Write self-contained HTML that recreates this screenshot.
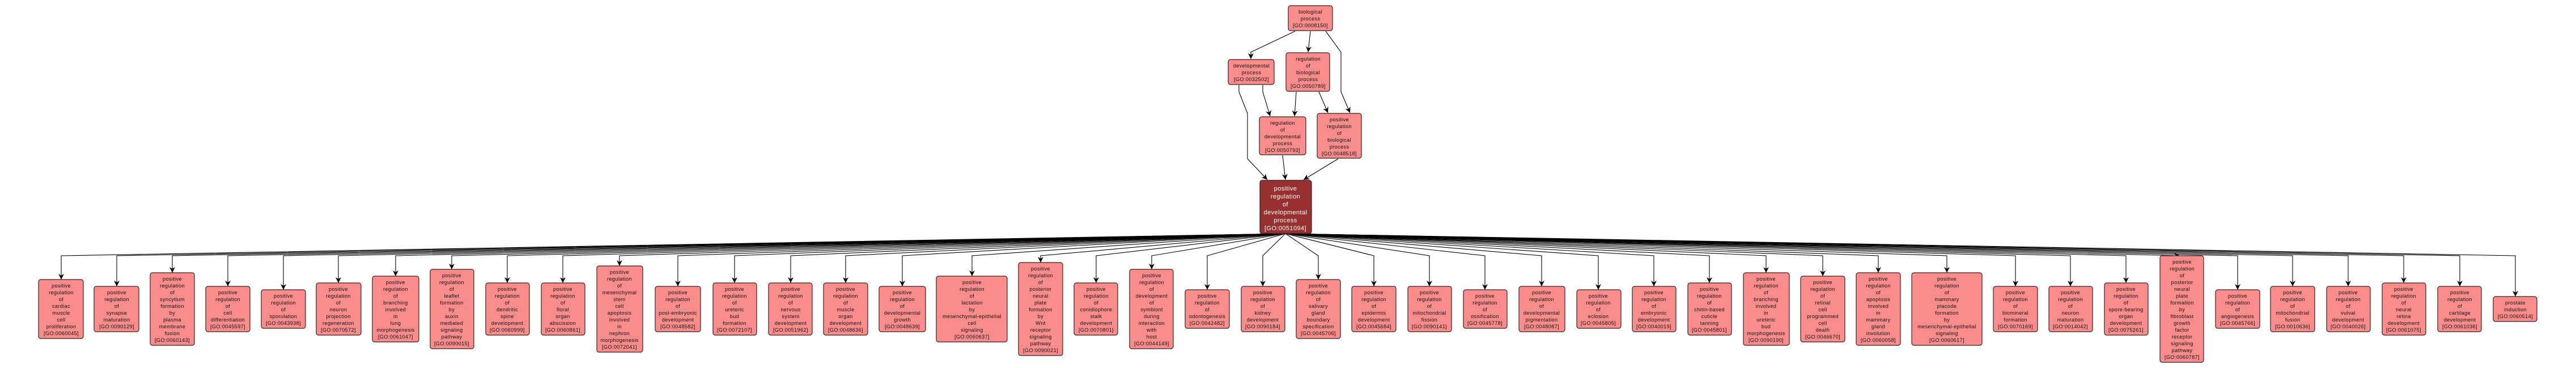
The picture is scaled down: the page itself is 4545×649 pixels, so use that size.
<!DOCTYPE html>
<html><head><meta charset="utf-8">
<style>
html,body{margin:0;padding:0;background:#fff;}
svg{display:block;}
.n{fill:#fa8c8c;stroke:#3a1e1e;stroke-width:1.2;}
.m{fill:#983030;stroke:#3a1e1e;stroke-width:1.2;}
text{font-family:"Liberation Sans",Arial,sans-serif;font-size:9.2px;letter-spacing:0.35px;fill:#111;text-anchor:middle;}
text.w{fill:#fff;font-size:11px;letter-spacing:0.4px;}
.e{fill:none;stroke:#000;stroke-width:1.1;}
</style></head>
<body>
<svg width="4545" height="649" viewBox="0 0 4545 649" xmlns="http://www.w3.org/2000/svg">
<defs>
<marker id="a" markerUnits="userSpaceOnUse" markerWidth="12" markerHeight="10" refX="10" refY="5" orient="auto">
<path d="M0,0 L10,5 L0,10 L3,5 z" fill="#000"/>
</marker>
</defs>

<path class="e" marker-end="url(#a)" d="M2285 55 L2207 92 L2207 104"/>
<path class="e" marker-end="url(#a)" d="M2312 55 L2308 92"/>
<path class="e" marker-end="url(#a)" d="M2339 55 L2366 92 L2366 162 L2382 199"/>
<path class="e" marker-end="url(#a)" d="M2186 150 L2186 162 L2201 200 L2201 280 L2220 300 L2236 317"/>
<path class="e" marker-end="url(#a)" d="M2228 150 L2228 162 L2241 205"/>
<path class="e" marker-end="url(#a)" d="M2287 162 L2284 205"/>
<path class="e" marker-end="url(#a)" d="M2327 162 L2343 199"/>
<path class="e" marker-end="url(#a)" d="M2263 274 L2268 317"/>
<path class="e" marker-end="url(#a)" d="M2361 280 L2300 317"/>

<rect class="n" x="2273" y="10" width="78" height="44" rx="4"/>
<text x="2312" y="24"><tspan x="2312">biological</tspan><tspan x="2312" dy="12">process</tspan><tspan x="2312" dy="12">[GO:0008150]</tspan></text>

<rect class="n" x="2167" y="105" width="81" height="44" rx="4"/>
<text x="2208" y="119"><tspan x="2208">developmental</tspan><tspan x="2208" dy="12">process</tspan><tspan x="2208" dy="12">[GO:0032502]</tspan></text>

<rect class="n" x="2269" y="93" width="77" height="68" rx="4"/>
<text x="2308" y="107"><tspan x="2308">regulation</tspan><tspan x="2308" dy="12">of</tspan><tspan x="2308" dy="12">biological</tspan><tspan x="2308" dy="12">process</tspan><tspan x="2308" dy="12">[GO:0050789]</tspan></text>

<rect class="n" x="2222" y="206" width="82" height="67" rx="4"/>
<text x="2263" y="220"><tspan x="2263">regulation</tspan><tspan x="2263" dy="12">of</tspan><tspan x="2263" dy="12">developmental</tspan><tspan x="2263" dy="12">process</tspan><tspan x="2263" dy="12">[GO:0050793]</tspan></text>

<rect class="n" x="2324" y="200" width="78" height="79" rx="4"/>
<text x="2363" y="214"><tspan x="2363">positive</tspan><tspan x="2363" dy="12">regulation</tspan><tspan x="2363" dy="12">of</tspan><tspan x="2363" dy="12">biological</tspan><tspan x="2363" dy="12">process</tspan><tspan x="2363" dy="12">[GO:0048518]</tspan></text>

<g>
<path class="e" marker-end="url(#a)" d="M2268 412 L108 451 L108 493"/>
<path class="e" marker-end="url(#a)" d="M2268 412 L206 451 L206 505"/>
<path class="e" marker-end="url(#a)" d="M2268 412 L304 451 L304 481"/>
<path class="e" marker-end="url(#a)" d="M2268 412 L402 451 L402 505"/>
<path class="e" marker-end="url(#a)" d="M2268 412 L500 451 L500 511"/>
<path class="e" marker-end="url(#a)" d="M2268 412 L597 451 L597 499"/>
<path class="e" marker-end="url(#a)" d="M2268 412 L698 451 L698 487"/>
<path class="e" marker-end="url(#a)" d="M2268 412 L797 451 L797 475"/>
<path class="e" marker-end="url(#a)" d="M2268 412 L895 451 L895 499"/>
<path class="e" marker-end="url(#a)" d="M2268 412 L993 451 L993 499"/>
<path class="e" marker-end="url(#a)" d="M2268 412 L1093 451 L1093 469"/>
<path class="e" marker-end="url(#a)" d="M2268 412 L1196 451 L1196 505"/>
<path class="e" marker-end="url(#a)" d="M2268 412 L1296 451 L1296 499"/>
<path class="e" marker-end="url(#a)" d="M2268 412 L1395 451 L1395 499"/>
<path class="e" marker-end="url(#a)" d="M2268 412 L1492 451 L1492 499"/>
<path class="e" marker-end="url(#a)" d="M2268 412 L1592 451 L1592 505"/>
<path class="e" marker-end="url(#a)" d="M2268 412 L1715 451 L1715 487"/>
<path class="e" marker-end="url(#a)" d="M2268 412 L1836 451 L1836 463"/>
<path class="e" marker-end="url(#a)" d="M2268 412 L1934 451 L1934 499"/>
<path class="e" marker-end="url(#a)" d="M2268 412 L2032 451 L2032 475"/>
<path class="e" marker-end="url(#a)" d="M2268 412 L2130 451 L2130 511"/>
<path class="e" marker-end="url(#a)" d="M2268 412 L2228 451 L2228 505"/>
<path class="e" marker-end="url(#a)" d="M2268 412 L2326 451 L2326 493"/>
<path class="e" marker-end="url(#a)" d="M2268 412 L2424 451 L2424 505"/>
<path class="e" marker-end="url(#a)" d="M2268 412 L2522 451 L2522 505"/>
<path class="e" marker-end="url(#a)" d="M2268 412 L2620 451 L2620 511"/>
<path class="e" marker-end="url(#a)" d="M2268 412 L2720 451 L2720 505"/>
<path class="e" marker-end="url(#a)" d="M2268 412 L2820 451 L2820 511"/>
<path class="e" marker-end="url(#a)" d="M2268 412 L2918 451 L2918 505"/>
<path class="e" marker-end="url(#a)" d="M2268 412 L3016 451 L3016 499"/>
<path class="e" marker-end="url(#a)" d="M2268 412 L3116 451 L3116 481"/>
<path class="e" marker-end="url(#a)" d="M2268 412 L3216 451 L3216 487"/>
<path class="e" marker-end="url(#a)" d="M2268 412 L3314 451 L3314 481"/>
<path class="e" marker-end="url(#a)" d="M2268 412 L3435 451 L3435 481"/>
<path class="e" marker-end="url(#a)" d="M2268 412 L3556 451 L3556 505"/>
<path class="e" marker-end="url(#a)" d="M2268 412 L3653 451 L3653 505"/>
<path class="e" marker-end="url(#a)" d="M2268 412 L3751 451 L3751 499"/>
<path class="e" marker-end="url(#a)" d="M2268 412 L3846 451"/>
<path class="e" marker-end="url(#a)" d="M2268 412 L3948 451 L3948 511"/>
<path class="e" marker-end="url(#a)" d="M2268 412 L4045 451 L4045 505"/>
<path class="e" marker-end="url(#a)" d="M2268 412 L4143 451 L4143 505"/>
<path class="e" marker-end="url(#a)" d="M2268 412 L4241 451 L4241 499"/>
<path class="e" marker-end="url(#a)" d="M2268 412 L4340 451 L4340 505"/>
<path class="e" marker-end="url(#a)" d="M2268 412 L4438 451 L4438 523"/>
</g>

<rect class="m" x="2223" y="318" width="91" height="94" rx="4"/>
<text class="w" x="2268" y="336"><tspan x="2268">positive</tspan><tspan x="2268" dy="14">regulation</tspan><tspan x="2268" dy="14">of</tspan><tspan x="2268" dy="14">developmental</tspan><tspan x="2268" dy="14">process</tspan><tspan x="2268" dy="14">[GO:0051094]</tspan></text>

<rect class="n" x="68" y="493" width="79" height="104" rx="4"/>
<text y="507"><tspan x="108">positive</tspan><tspan x="108" dy="12">regulation</tspan><tspan x="108" dy="12">of</tspan><tspan x="108" dy="12">cardiac</tspan><tspan x="108" dy="12">muscle</tspan><tspan x="108" dy="12">cell</tspan><tspan x="108" dy="12">proliferation</tspan><tspan x="108" dy="12">[GO:0060045]</tspan></text>

<rect class="n" x="166" y="505" width="79" height="80" rx="4"/>
<text y="519"><tspan x="206">positive</tspan><tspan x="206" dy="12">regulation</tspan><tspan x="206" dy="12">of</tspan><tspan x="206" dy="12">synapse</tspan><tspan x="206" dy="12">maturation</tspan><tspan x="206" dy="12">[GO:0090129]</tspan></text>

<rect class="n" x="265" y="481" width="78" height="128" rx="4"/>
<text y="495"><tspan x="304">positive</tspan><tspan x="304" dy="12">regulation</tspan><tspan x="304" dy="12">of</tspan><tspan x="304" dy="12">syncytium</tspan><tspan x="304" dy="12">formation</tspan><tspan x="304" dy="12">by</tspan><tspan x="304" dy="12">plasma</tspan><tspan x="304" dy="12">membrane</tspan><tspan x="304" dy="12">fusion</tspan><tspan x="304" dy="12">[GO:0060143]</tspan></text>

<rect class="n" x="363" y="505" width="78" height="80" rx="4"/>
<text y="519"><tspan x="402">positive</tspan><tspan x="402" dy="12">regulation</tspan><tspan x="402" dy="12">of</tspan><tspan x="402" dy="12">cell</tspan><tspan x="402" dy="12">differentiation</tspan><tspan x="402" dy="12">[GO:0045597]</tspan></text>

<rect class="n" x="461" y="511" width="78" height="68" rx="4"/>
<text y="525"><tspan x="500">positive</tspan><tspan x="500" dy="12">regulation</tspan><tspan x="500" dy="12">of</tspan><tspan x="500" dy="12">sporulation</tspan><tspan x="500" dy="12">[GO:0043938]</tspan></text>

<rect class="n" x="558" y="499" width="79" height="92" rx="4"/>
<text y="513"><tspan x="597">positive</tspan><tspan x="597" dy="12">regulation</tspan><tspan x="597" dy="12">of</tspan><tspan x="597" dy="12">neuron</tspan><tspan x="597" dy="12">projection</tspan><tspan x="597" dy="12">regeneration</tspan><tspan x="597" dy="12">[GO:0070572]</tspan></text>

<rect class="n" x="657" y="487" width="82" height="116" rx="4"/>
<text y="501"><tspan x="698">positive</tspan><tspan x="698" dy="12">regulation</tspan><tspan x="698" dy="12">of</tspan><tspan x="698" dy="12">branching</tspan><tspan x="698" dy="12">involved</tspan><tspan x="698" dy="12">in</tspan><tspan x="698" dy="12">lung</tspan><tspan x="698" dy="12">morphogenesis</tspan><tspan x="698" dy="12">[GO:0061047]</tspan></text>

<rect class="n" x="759" y="475" width="77" height="140" rx="4"/>
<text y="489"><tspan x="797">positive</tspan><tspan x="797" dy="12">regulation</tspan><tspan x="797" dy="12">of</tspan><tspan x="797" dy="12">leaflet</tspan><tspan x="797" dy="12">formation</tspan><tspan x="797" dy="12">by</tspan><tspan x="797" dy="12">auxin</tspan><tspan x="797" dy="12">mediated</tspan><tspan x="797" dy="12">signaling</tspan><tspan x="797" dy="12">pathway</tspan><tspan x="797" dy="12">[GO:0090015]</tspan></text>

<rect class="n" x="857" y="499" width="77" height="92" rx="4"/>
<text y="513"><tspan x="895">positive</tspan><tspan x="895" dy="12">regulation</tspan><tspan x="895" dy="12">of</tspan><tspan x="895" dy="12">dendritic</tspan><tspan x="895" dy="12">spine</tspan><tspan x="895" dy="12">development</tspan><tspan x="895" dy="12">[GO:0060999]</tspan></text>

<rect class="n" x="955" y="499" width="77" height="92" rx="4"/>
<text y="513"><tspan x="993">positive</tspan><tspan x="993" dy="12">regulation</tspan><tspan x="993" dy="12">of</tspan><tspan x="993" dy="12">floral</tspan><tspan x="993" dy="12">organ</tspan><tspan x="993" dy="12">abscission</tspan><tspan x="993" dy="12">[GO:0060861]</tspan></text>

<rect class="n" x="1053" y="469" width="81" height="152" rx="4"/>
<text y="483"><tspan x="1093">positive</tspan><tspan x="1093" dy="12">regulation</tspan><tspan x="1093" dy="12">of</tspan><tspan x="1093" dy="12">mesenchymal</tspan><tspan x="1093" dy="12">stem</tspan><tspan x="1093" dy="12">cell</tspan><tspan x="1093" dy="12">apoptosis</tspan><tspan x="1093" dy="12">involved</tspan><tspan x="1093" dy="12">in</tspan><tspan x="1093" dy="12">nephron</tspan><tspan x="1093" dy="12">morphogenesis</tspan><tspan x="1093" dy="12">[GO:0072041]</tspan></text>

<rect class="n" x="1156" y="505" width="80" height="80" rx="4"/>
<text y="519"><tspan x="1196">positive</tspan><tspan x="1196" dy="12">regulation</tspan><tspan x="1196" dy="12">of</tspan><tspan x="1196" dy="12">post-embryonic</tspan><tspan x="1196" dy="12">development</tspan><tspan x="1196" dy="12">[GO:0048582]</tspan></text>

<rect class="n" x="1258" y="499" width="77" height="92" rx="4"/>
<text y="513"><tspan x="1296">positive</tspan><tspan x="1296" dy="12">regulation</tspan><tspan x="1296" dy="12">of</tspan><tspan x="1296" dy="12">ureteric</tspan><tspan x="1296" dy="12">bud</tspan><tspan x="1296" dy="12">formation</tspan><tspan x="1296" dy="12">[GO:0072107]</tspan></text>

<rect class="n" x="1356" y="499" width="77" height="92" rx="4"/>
<text y="513"><tspan x="1395">positive</tspan><tspan x="1395" dy="12">regulation</tspan><tspan x="1395" dy="12">of</tspan><tspan x="1395" dy="12">nervous</tspan><tspan x="1395" dy="12">system</tspan><tspan x="1395" dy="12">development</tspan><tspan x="1395" dy="12">[GO:0051962]</tspan></text>

<rect class="n" x="1453" y="499" width="78" height="92" rx="4"/>
<text y="513"><tspan x="1492">positive</tspan><tspan x="1492" dy="12">regulation</tspan><tspan x="1492" dy="12">of</tspan><tspan x="1492" dy="12">muscle</tspan><tspan x="1492" dy="12">organ</tspan><tspan x="1492" dy="12">development</tspan><tspan x="1492" dy="12">[GO:0048636]</tspan></text>

<rect class="n" x="1551" y="505" width="82" height="80" rx="4"/>
<text y="519"><tspan x="1592">positive</tspan><tspan x="1592" dy="12">regulation</tspan><tspan x="1592" dy="12">of</tspan><tspan x="1592" dy="12">developmental</tspan><tspan x="1592" dy="12">growth</tspan><tspan x="1592" dy="12">[GO:0048639]</tspan></text>

<rect class="n" x="1652" y="487" width="125" height="116" rx="4"/>
<text y="501"><tspan x="1715">positive</tspan><tspan x="1715" dy="12">regulation</tspan><tspan x="1715" dy="12">of</tspan><tspan x="1715" dy="12">lactation</tspan><tspan x="1715" dy="12">by</tspan><tspan x="1715" dy="12">mesenchymal-epithelial</tspan><tspan x="1715" dy="12">cell</tspan><tspan x="1715" dy="12">signaling</tspan><tspan x="1715" dy="12">[GO:0060637]</tspan></text>

<rect class="n" x="1797" y="463" width="78" height="164" rx="4"/>
<text y="477"><tspan x="1836">positive</tspan><tspan x="1836" dy="12">regulation</tspan><tspan x="1836" dy="12">of</tspan><tspan x="1836" dy="12">posterior</tspan><tspan x="1836" dy="12">neural</tspan><tspan x="1836" dy="12">plate</tspan><tspan x="1836" dy="12">formation</tspan><tspan x="1836" dy="12">by</tspan><tspan x="1836" dy="12">Wnt</tspan><tspan x="1836" dy="12">receptor</tspan><tspan x="1836" dy="12">signaling</tspan><tspan x="1836" dy="12">pathway</tspan><tspan x="1836" dy="12">[GO:0090021]</tspan></text>

<rect class="n" x="1895" y="499" width="77" height="92" rx="4"/>
<text y="513"><tspan x="1934">positive</tspan><tspan x="1934" dy="12">regulation</tspan><tspan x="1934" dy="12">of</tspan><tspan x="1934" dy="12">conidiophore</tspan><tspan x="1934" dy="12">stalk</tspan><tspan x="1934" dy="12">development</tspan><tspan x="1934" dy="12">[GO:0070801]</tspan></text>

<rect class="n" x="1993" y="475" width="77" height="140" rx="4"/>
<text y="489"><tspan x="2032">positive</tspan><tspan x="2032" dy="12">regulation</tspan><tspan x="2032" dy="12">of</tspan><tspan x="2032" dy="12">development</tspan><tspan x="2032" dy="12">of</tspan><tspan x="2032" dy="12">symbiont</tspan><tspan x="2032" dy="12">during</tspan><tspan x="2032" dy="12">interaction</tspan><tspan x="2032" dy="12">with</tspan><tspan x="2032" dy="12">host</tspan><tspan x="2032" dy="12">[GO:0044149]</tspan></text>

<rect class="n" x="2091" y="511" width="78" height="68" rx="4"/>
<text y="525"><tspan x="2130">positive</tspan><tspan x="2130" dy="12">regulation</tspan><tspan x="2130" dy="12">of</tspan><tspan x="2130" dy="12">odontogenesis</tspan><tspan x="2130" dy="12">[GO:0042482]</tspan></text>

<rect class="n" x="2190" y="505" width="77" height="80" rx="4"/>
<text y="519"><tspan x="2228">positive</tspan><tspan x="2228" dy="12">regulation</tspan><tspan x="2228" dy="12">of</tspan><tspan x="2228" dy="12">kidney</tspan><tspan x="2228" dy="12">development</tspan><tspan x="2228" dy="12">[GO:0090184]</tspan></text>

<rect class="n" x="2287" y="493" width="78" height="104" rx="4"/>
<text y="507"><tspan x="2326">positive</tspan><tspan x="2326" dy="12">regulation</tspan><tspan x="2326" dy="12">of</tspan><tspan x="2326" dy="12">salivary</tspan><tspan x="2326" dy="12">gland</tspan><tspan x="2326" dy="12">boundary</tspan><tspan x="2326" dy="12">specification</tspan><tspan x="2326" dy="12">[GO:0045706]</tspan></text>

<rect class="n" x="2385" y="505" width="78" height="80" rx="4"/>
<text y="519"><tspan x="2424">positive</tspan><tspan x="2424" dy="12">regulation</tspan><tspan x="2424" dy="12">of</tspan><tspan x="2424" dy="12">epidermis</tspan><tspan x="2424" dy="12">development</tspan><tspan x="2424" dy="12">[GO:0045684]</tspan></text>

<rect class="n" x="2484" y="505" width="77" height="80" rx="4"/>
<text y="519"><tspan x="2522">positive</tspan><tspan x="2522" dy="12">regulation</tspan><tspan x="2522" dy="12">of</tspan><tspan x="2522" dy="12">mitochondrial</tspan><tspan x="2522" dy="12">fission</tspan><tspan x="2522" dy="12">[GO:0090141]</tspan></text>

<rect class="n" x="2582" y="511" width="77" height="68" rx="4"/>
<text y="525"><tspan x="2620">positive</tspan><tspan x="2620" dy="12">regulation</tspan><tspan x="2620" dy="12">of</tspan><tspan x="2620" dy="12">ossification</tspan><tspan x="2620" dy="12">[GO:0045778]</tspan></text>

<rect class="n" x="2680" y="505" width="81" height="80" rx="4"/>
<text y="519"><tspan x="2720">positive</tspan><tspan x="2720" dy="12">regulation</tspan><tspan x="2720" dy="12">of</tspan><tspan x="2720" dy="12">developmental</tspan><tspan x="2720" dy="12">pigmentation</tspan><tspan x="2720" dy="12">[GO:0048087]</tspan></text>

<rect class="n" x="2782" y="511" width="78" height="68" rx="4"/>
<text y="525"><tspan x="2820">positive</tspan><tspan x="2820" dy="12">regulation</tspan><tspan x="2820" dy="12">of</tspan><tspan x="2820" dy="12">eclosion</tspan><tspan x="2820" dy="12">[GO:0045805]</tspan></text>

<rect class="n" x="2880" y="505" width="77" height="80" rx="4"/>
<text y="519"><tspan x="2918">positive</tspan><tspan x="2918" dy="12">regulation</tspan><tspan x="2918" dy="12">of</tspan><tspan x="2918" dy="12">embryonic</tspan><tspan x="2918" dy="12">development</tspan><tspan x="2918" dy="12">[GO:0040019]</tspan></text>

<rect class="n" x="2978" y="499" width="77" height="92" rx="4"/>
<text y="513"><tspan x="3016">positive</tspan><tspan x="3016" dy="12">regulation</tspan><tspan x="3016" dy="12">of</tspan><tspan x="3016" dy="12">chitin-based</tspan><tspan x="3016" dy="12">cuticle</tspan><tspan x="3016" dy="12">tanning</tspan><tspan x="3016" dy="12">[GO:0045801]</tspan></text>

<rect class="n" x="3076" y="481" width="81" height="128" rx="4"/>
<text y="495"><tspan x="3116">positive</tspan><tspan x="3116" dy="12">regulation</tspan><tspan x="3116" dy="12">of</tspan><tspan x="3116" dy="12">branching</tspan><tspan x="3116" dy="12">involved</tspan><tspan x="3116" dy="12">in</tspan><tspan x="3116" dy="12">ureteric</tspan><tspan x="3116" dy="12">bud</tspan><tspan x="3116" dy="12">morphogenesis</tspan><tspan x="3116" dy="12">[GO:0090190]</tspan></text>

<rect class="n" x="3177" y="487" width="78" height="116" rx="4"/>
<text y="501"><tspan x="3216">positive</tspan><tspan x="3216" dy="12">regulation</tspan><tspan x="3216" dy="12">of</tspan><tspan x="3216" dy="12">retinal</tspan><tspan x="3216" dy="12">cell</tspan><tspan x="3216" dy="12">programmed</tspan><tspan x="3216" dy="12">cell</tspan><tspan x="3216" dy="12">death</tspan><tspan x="3216" dy="12">[GO:0046670]</tspan></text>

<rect class="n" x="3275" y="481" width="78" height="128" rx="4"/>
<text y="495"><tspan x="3314">positive</tspan><tspan x="3314" dy="12">regulation</tspan><tspan x="3314" dy="12">of</tspan><tspan x="3314" dy="12">apoptosis</tspan><tspan x="3314" dy="12">involved</tspan><tspan x="3314" dy="12">in</tspan><tspan x="3314" dy="12">mammary</tspan><tspan x="3314" dy="12">gland</tspan><tspan x="3314" dy="12">involution</tspan><tspan x="3314" dy="12">[GO:0060058]</tspan></text>

<rect class="n" x="3373" y="481" width="124" height="128" rx="4"/>
<text y="495"><tspan x="3435">positive</tspan><tspan x="3435" dy="12">regulation</tspan><tspan x="3435" dy="12">of</tspan><tspan x="3435" dy="12">mammary</tspan><tspan x="3435" dy="12">placode</tspan><tspan x="3435" dy="12">formation</tspan><tspan x="3435" dy="12">by</tspan><tspan x="3435" dy="12">mesenchymal-epithelial</tspan><tspan x="3435" dy="12">signaling</tspan><tspan x="3435" dy="12">[GO:0060617]</tspan></text>

<rect class="n" x="3517" y="505" width="78" height="80" rx="4"/>
<text y="519"><tspan x="3556">positive</tspan><tspan x="3556" dy="12">regulation</tspan><tspan x="3556" dy="12">of</tspan><tspan x="3556" dy="12">biomineral</tspan><tspan x="3556" dy="12">formation</tspan><tspan x="3556" dy="12">[GO:0070169]</tspan></text>

<rect class="n" x="3615" y="505" width="77" height="80" rx="4"/>
<text y="519"><tspan x="3653">positive</tspan><tspan x="3653" dy="12">regulation</tspan><tspan x="3653" dy="12">of</tspan><tspan x="3653" dy="12">neuron</tspan><tspan x="3653" dy="12">maturation</tspan><tspan x="3653" dy="12">[GO:0014042]</tspan></text>

<rect class="n" x="3713" y="499" width="77" height="92" rx="4"/>
<text y="513"><tspan x="3751">positive</tspan><tspan x="3751" dy="12">regulation</tspan><tspan x="3751" dy="12">of</tspan><tspan x="3751" dy="12">spore-bearing</tspan><tspan x="3751" dy="12">organ</tspan><tspan x="3751" dy="12">development</tspan><tspan x="3751" dy="12">[GO:0075261]</tspan></text>

<rect class="n" x="3811" y="451" width="77" height="188" rx="4"/>
<text y="465"><tspan x="3850">positive</tspan><tspan x="3850" dy="12">regulation</tspan><tspan x="3850" dy="12">of</tspan><tspan x="3850" dy="12">posterior</tspan><tspan x="3850" dy="12">neural</tspan><tspan x="3850" dy="12">plate</tspan><tspan x="3850" dy="12">formation</tspan><tspan x="3850" dy="12">by</tspan><tspan x="3850" dy="12">fibroblast</tspan><tspan x="3850" dy="12">growth</tspan><tspan x="3850" dy="12">factor</tspan><tspan x="3850" dy="12">receptor</tspan><tspan x="3850" dy="12">signaling</tspan><tspan x="3850" dy="12">pathway</tspan><tspan x="3850" dy="12">[GO:0060787]</tspan></text>

<rect class="n" x="3909" y="511" width="78" height="68" rx="4"/>
<text y="525"><tspan x="3948">positive</tspan><tspan x="3948" dy="12">regulation</tspan><tspan x="3948" dy="12">of</tspan><tspan x="3948" dy="12">angiogenesis</tspan><tspan x="3948" dy="12">[GO:0045766]</tspan></text>

<rect class="n" x="4006" y="505" width="78" height="80" rx="4"/>
<text y="519"><tspan x="4045">positive</tspan><tspan x="4045" dy="12">regulation</tspan><tspan x="4045" dy="12">of</tspan><tspan x="4045" dy="12">mitochondrial</tspan><tspan x="4045" dy="12">fusion</tspan><tspan x="4045" dy="12">[GO:0010636]</tspan></text>

<rect class="n" x="4105" y="505" width="77" height="80" rx="4"/>
<text y="519"><tspan x="4143">positive</tspan><tspan x="4143" dy="12">regulation</tspan><tspan x="4143" dy="12">of</tspan><tspan x="4143" dy="12">vulval</tspan><tspan x="4143" dy="12">development</tspan><tspan x="4143" dy="12">[GO:0040026]</tspan></text>

<rect class="n" x="4203" y="499" width="77" height="92" rx="4"/>
<text y="513"><tspan x="4241">positive</tspan><tspan x="4241" dy="12">regulation</tspan><tspan x="4241" dy="12">of</tspan><tspan x="4241" dy="12">neural</tspan><tspan x="4241" dy="12">retina</tspan><tspan x="4241" dy="12">development</tspan><tspan x="4241" dy="12">[GO:0061075]</tspan></text>

<rect class="n" x="4301" y="505" width="77" height="80" rx="4"/>
<text y="519"><tspan x="4340">positive</tspan><tspan x="4340" dy="12">regulation</tspan><tspan x="4340" dy="12">of</tspan><tspan x="4340" dy="12">cartilage</tspan><tspan x="4340" dy="12">development</tspan><tspan x="4340" dy="12">[GO:0061036]</tspan></text>

<rect class="n" x="4399" y="523" width="77" height="44" rx="4"/>
<text y="537"><tspan x="4438">prostate</tspan><tspan x="4438" dy="12">induction</tspan><tspan x="4438" dy="12">[GO:0060514]</tspan></text>

</svg>
</body></html>
